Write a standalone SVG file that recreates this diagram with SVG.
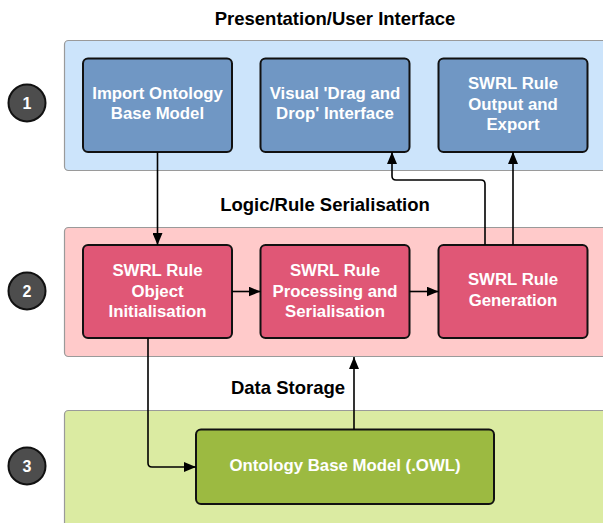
<svg xmlns="http://www.w3.org/2000/svg" width="603" height="523" viewBox="0 0 603 523">
  <style>
    .band { stroke: #9a9a9a; stroke-width: 1.2; }
    .node { stroke: #111; stroke-width: 2; }
    .label { font-family: "Liberation Sans", Arial, sans-serif; font-weight: bold; font-size: 16.8px; fill: #fff; text-anchor: middle; }
    .title { font-family: "Liberation Sans", Arial, sans-serif; font-weight: bold; font-size: 18.5px; fill: #000; text-anchor: middle; }
    .num { font-family: "Liberation Sans", Arial, sans-serif; font-weight: bold; font-size: 16px; fill: #fff; text-anchor: middle; }
    .conn { fill: none; stroke: #000; stroke-width: 1.6; }
  </style>
  <defs>
    <marker id="arrow" viewBox="0 0 12 10" refX="12" refY="5" markerWidth="12" markerHeight="10" markerUnits="userSpaceOnUse" orient="auto">
      <path d="M0,0 L12,5 L0,10 z" fill="#000"/>
    </marker>
  </defs>

  <rect width="603" height="523" fill="#fff"/>

  <!-- layer bands -->
  <g id="bands">
    <rect class="band" x="64.5" y="40.5" width="545" height="130" rx="4" fill="#cce4fb"/>
    <rect class="band" x="64.5" y="227.5" width="545" height="129" rx="4" fill="#ffcaca"/>
    <rect class="band" x="64.5" y="410.5" width="545" height="130" rx="4" fill="#dbeba2"/>
  </g>

  <!-- layer titles -->
  <g id="titles">
    <text class="title" x="335" y="25">Presentation/User Interface</text>
    <text class="title" x="325" y="211">Logic/Rule Serialisation</text>
    <text class="title" x="288" y="394">Data Storage</text>
  </g>

  <!-- layer numbers -->
  <g id="num1">
    <circle cx="27" cy="103" r="18.5" fill="#4d4d4d" stroke="#111" stroke-width="2"/>
    <text class="num" x="27" y="109">1</text>
  </g>
  <g id="num2">
    <circle cx="27" cy="291" r="18.5" fill="#4d4d4d" stroke="#111" stroke-width="2"/>
    <text class="num" x="27" y="297">2</text>
  </g>
  <g id="num3">
    <circle cx="27" cy="466" r="18.5" fill="#4d4d4d" stroke="#111" stroke-width="2"/>
    <text class="num" x="27" y="472">3</text>
  </g>

  <!-- presentation layer -->
  <g id="import-ontology">
    <rect class="node" x="83" y="58.5" width="149" height="93.5" rx="5" fill="#7097c4"/>
    <text class="label" x="157.5" y="99">Import Ontology</text>
    <text class="label" x="157.5" y="119">Base Model</text>
  </g>
  <g id="visual-interface">
    <rect class="node" x="260.5" y="58.5" width="149" height="93.5" rx="5" fill="#7097c4"/>
    <text class="label" x="335" y="99">Visual 'Drag and</text>
    <text class="label" x="335" y="119">Drop' Interface</text>
  </g>
  <g id="rule-output">
    <rect class="node" x="438.5" y="58.5" width="149" height="93.5" rx="5" fill="#7097c4"/>
    <text class="label" x="513" y="89">SWRL Rule</text>
    <text class="label" x="513" y="109.5">Output and</text>
    <text class="label" x="513" y="130">Export</text>
  </g>

  <!-- logic layer -->
  <g id="rule-init">
    <rect class="node" x="83" y="245" width="149" height="93" rx="5" fill="#e05776"/>
    <text class="label" x="157.5" y="276">SWRL Rule</text>
    <text class="label" x="157.5" y="296.5">Object</text>
    <text class="label" x="157.5" y="317">Initialisation</text>
  </g>
  <g id="rule-processing">
    <rect class="node" x="260.5" y="245" width="149" height="93" rx="5" fill="#e05776"/>
    <text class="label" x="335" y="276">SWRL Rule</text>
    <text class="label" x="335" y="296.5">Processing and</text>
    <text class="label" x="335" y="317">Serialisation</text>
  </g>
  <g id="rule-generation">
    <rect class="node" x="438.5" y="245" width="149" height="93" rx="5" fill="#e05776"/>
    <text class="label" x="513" y="285">SWRL Rule</text>
    <text class="label" x="513" y="305.5">Generation</text>
  </g>

  <!-- storage layer -->
  <g id="ontology-owl">
    <rect class="node" x="196" y="429.5" width="298" height="74.5" rx="5" fill="#9cba41"/>
    <text class="label" x="345" y="471">Ontology Base Model (.OWL)</text>
  </g>

  <!-- connectors -->
  <g id="connectors">
    <path class="conn" d="M157.5,152 L157.5,245" marker-end="url(#arrow)"/>
    <path class="conn" d="M232,291.5 L260.5,291.5" marker-end="url(#arrow)"/>
    <path class="conn" d="M409.5,291.5 L438.5,291.5" marker-end="url(#arrow)"/>
    <path class="conn" d="M485,245 L485,184 Q485,180 481,180 L396,180 Q392,180 392,176 L392,152" marker-end="url(#arrow)"/>
    <path class="conn" d="M513,245 L513,152" marker-end="url(#arrow)"/>
    <path class="conn" d="M148,338 L148,463 Q148,467 152,467 L196,467" marker-end="url(#arrow)"/>
    <path class="conn" d="M354,429.5 L354,357" marker-end="url(#arrow)"/>
  </g>
</svg>
